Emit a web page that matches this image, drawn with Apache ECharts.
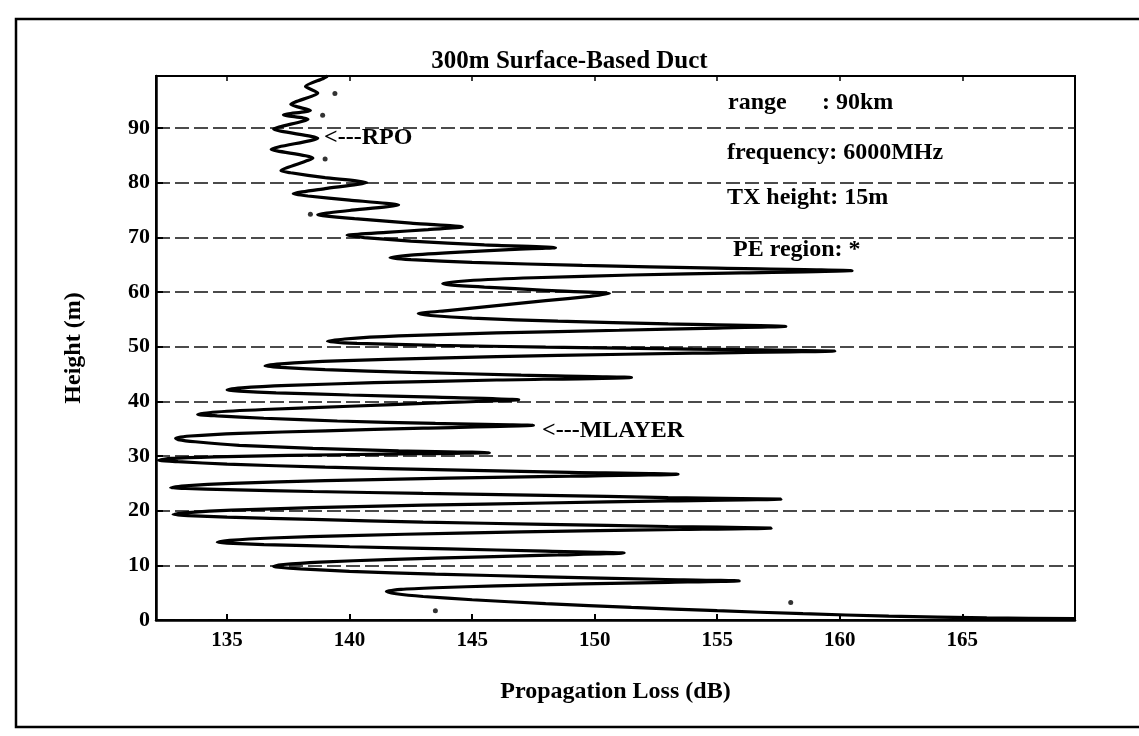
<!DOCTYPE html>
<html>
<head>
<meta charset="utf-8">
<script src="https://cdn.jsdelivr.net/npm/echarts@6/dist/echarts.min.js"></script>
<style>
  html, body { margin: 0; padding: 0; background: #fff; }
  #chart { width: 1139px; height: 736px; }
</style>
</head>
<body>
<div id="chart"></div>
<script>
// ---- Data ----
const chartTitle = '300m Surface-Based Duct';
const xAxisTitle = 'Propagation Loss (dB)';
const yAxisTitle = 'Height (m)';
const xTickValues = [135, 140, 145, 150, 155, 160, 165];
const yTickValues = [0, 10, 20, 30, 40, 50, 60, 70, 80, 90];
const infoLines = ['frequency: 6000MHz', 'TX height: 15m', 'PE region: *'];

// propagation loss curve: [loss dB, height m], ordered by height
const lossCurve = [
  [169.6, 0.25], [166, 0.4], [162, 0.7], [158.5, 1.15], [155, 1.7], [151.5, 2.3], [148, 3.0], [145, 3.7], [143, 4.3], [141.9, 4.8], [141.5, 5.2],
  [142.1, 5.6], [143.5, 5.9], [146, 6.25], [149.5, 6.6], [153, 6.9], [155.9, 7.15],
  [152.5, 7.45], [148, 7.9], [143.5, 8.4], [140, 8.9], [138, 9.35], [137.1, 9.65], [136.9, 9.8],
  [137.3, 10.15], [138.8, 10.6], [141.5, 11.05], [145.5, 11.55], [148.5, 11.9], [151.2, 12.25],
  [148, 12.6], [144, 13.0], [140, 13.4], [136.5, 13.8], [135.0, 14.05], [134.6, 14.2],
  [135.1, 14.55], [136.8, 15.0], [140, 15.45], [144.5, 15.9], [149.5, 16.3], [153.5, 16.55], [157.2, 16.8],
  [153, 17.1], [148, 17.5], [143, 17.9], [138.5, 18.4], [135, 18.8], [133.4, 19.1], [132.8, 19.3],
  [133.4, 19.65], [135.2, 20.1], [138.5, 20.55], [143, 21.0], [148, 21.4], [153, 21.8], [157.6, 22.1],
  [153, 22.4], [148, 22.8], [143, 23.15], [138.5, 23.5], [135, 23.85], [133.3, 24.05], [132.7, 24.2],
  [133.3, 24.55], [135.2, 25.0], [139, 25.5], [144, 25.95], [149, 26.3], [153.4, 26.65],
  [149, 27.0], [144, 27.45], [139, 27.95], [135, 28.5], [133, 28.95], [132.2, 29.2],
  [132.7, 29.55], [134.5, 29.85], [137.5, 30.1], [141.5, 30.35], [145.7, 30.6],
  [142, 30.95], [138.5, 31.4], [135.5, 31.95], [133.7, 32.6], [133.0, 33.0], [132.9, 33.25],
  [133.5, 33.65], [135.5, 34.15], [139, 34.6], [143, 35.1], [147.5, 35.6],
  [143.5, 35.95], [139.5, 36.4], [136.5, 36.9], [134.6, 37.35], [133.8, 37.6],
  [134.4, 38.0], [136.5, 38.5], [140, 39.1], [143.5, 39.7], [146.9, 40.3],
  [143.5, 40.75], [140, 41.15], [137, 41.55], [135.5, 41.85], [135.0, 42.05],
  [135.6, 42.45], [137.5, 42.9], [141, 43.4], [146, 43.9], [151.5, 44.35],
  [147, 44.8], [142.5, 45.3], [139, 45.8], [137.2, 46.2], [136.55, 46.45],
  [137.2, 46.85], [139.5, 47.4], [143.5, 47.9], [148.5, 48.4], [154, 48.8], [159.8, 49.2],
  [154, 49.55], [148, 49.9], [143.5, 50.25], [140.3, 50.6], [139.1, 50.95],
  [139.8, 51.4], [142, 51.95], [146, 52.5], [151, 53.0], [155, 53.4], [157.8, 53.7],
  [153, 54.15], [148.5, 54.65], [145, 55.2], [143.3, 55.7], [142.8, 56.05],
  [144, 56.6], [146, 57.5], [148, 58.4], [149.8, 59.2], [150.6, 59.7],
  [148, 60.3], [145.5, 60.9], [144.1, 61.3], [143.8, 61.55],
  [144.8, 62.05], [147.5, 62.6], [151.5, 63.1], [156, 63.5], [160.5, 63.9],
  [155, 64.35], [149.5, 64.85], [145, 65.4], [142.5, 65.9], [141.65, 66.25],
  [142.5, 66.75], [144.5, 67.3], [146.5, 67.75], [148.4, 68.1],
  [145.5, 68.6], [142.5, 69.3], [140.6, 69.95], [139.9, 70.35],
  [141.5, 70.9], [143.2, 71.4], [144.6, 71.9],
  [142.5, 72.6], [140.2, 73.4], [138.9, 73.95], [138.7, 74.15],
  [140.0, 74.9], [142.0, 75.9],
  [140.0, 76.8], [138.3, 77.55], [137.7, 77.95],
  [139.0, 78.9], [140.7, 80.0],
  [139.0, 80.9], [137.6, 81.8], [137.2, 82.15],
  [138.5, 84.5], [136.8, 86.1], [138.7, 88.1], [136.9, 89.8], [138.3, 91.6],
  [137.3, 92.4], [138.4, 93.2], [137.6, 94.3], [138.7, 96.4], [138.2, 97.6],
  [138.9, 99.0], [139.1, 99.5]
];

// isolated PE-region "*" marks
const peMarks = [[143.5, 1.7], [158.0, 3.2], [139.4, 96.3], [138.9, 92.3], [139.0, 84.3], [138.4, 74.2]];

// ---- Chart ----
const serif = "'Liberation Serif', 'DejaVu Serif', serif";
const chart = echarts.init(document.getElementById('chart'), null, { renderer: 'canvas' });

const option = {
  backgroundColor: '#ffffff',
  animation: false,
  title: {
    text: chartTitle,
    left: 'center',
    top: 49,
    padding: 0,
    textStyle: { fontFamily: serif, fontSize: 25, fontWeight: 'bold', color: '#000' }
  },
  grid: {
    left: 156, right: 64, top: 76, bottom: 116,
    show: true, borderColor: '#000', borderWidth: 2, backgroundColor: 'transparent'
  },
  xAxis: [{
    type: 'value', min: 132.1, max: 169.6, position: 'bottom',
    name: xAxisTitle, nameLocation: 'middle', nameGap: 60,
    nameTextStyle: { fontFamily: serif, fontSize: 24, fontWeight: 'bold', color: '#000' },
    axisLine: { show: true, lineStyle: { color: '#000', width: 2.5 } },
    axisTick: { show: true, inside: true, length: 6, customValues: xTickValues, lineStyle: { color: '#000', width: 2 } },
    axisLabel: { customValues: xTickValues, margin: 10, fontFamily: serif, fontSize: 21, fontWeight: 'bold', color: '#000' },
    splitLine: { show: false }
  }, {
    type: 'value', min: 132.1, max: 169.6, position: 'top',
    axisLine: { show: true, lineStyle: { color: '#000', width: 2 } },
    axisTick: { show: true, inside: true, length: 5, customValues: xTickValues, lineStyle: { color: '#000', width: 1.5 } },
    axisLabel: { show: false },
    splitLine: { show: false }
  }],
  yAxis: {
    type: 'value', min: 0, max: 99.5, interval: 10,
    name: yAxisTitle, nameLocation: 'middle', nameGap: 70, nameRotate: 90,
    nameTextStyle: { fontFamily: serif, fontSize: 24, fontWeight: 'bold', color: '#000' },
    axisLine: { show: true, lineStyle: { color: '#000', width: 2.5 } },
    axisTick: { show: true, inside: true, length: 7, lineStyle: { color: '#000', width: 2 } },
    axisLabel: { showMaxLabel: false, margin: 6, fontFamily: serif, fontSize: 22, fontWeight: 'bold', color: '#000' },
    splitLine: { show: true, lineStyle: { color: '#111', width: 1.6, type: [14, 5] } }
  },
  series: [{
    name: 'Propagation loss',
    type: 'line',
    data: lossCurve,
    showSymbol: false,
    smooth: 0.2,
    clip: true,
    lineStyle: { color: '#000', width: 3.2 },
    z: 3
  }, {
    name: 'PE region',
    type: 'scatter',
    data: peMarks,
    symbol: 'circle',
    symbolSize: 5,
    itemStyle: { color: '#000' },
    z: 4
  }],
  graphic: [
    { type: 'rect', shape: { x: 16, y: 19, width: 1140, height: 708 }, style: { fill: 'none', stroke: '#000', lineWidth: 2.5 }, silent: true },
    { type: 'text', x: 728, y: 103, style: { text: 'range', font: "bold 24px " + serif, fill: '#000', textVerticalAlign: 'middle' } },
    { type: 'text', x: 822, y: 103, style: { text: ': 90km', font: "bold 24px " + serif, fill: '#000', textVerticalAlign: 'middle' } },
    { type: 'text', x: 727, y: 153, style: { text: infoLines[0], font: "bold 24px " + serif, fill: '#000', textVerticalAlign: 'middle' } },
    { type: 'text', x: 727, y: 198, style: { text: infoLines[1], font: "bold 24px " + serif, fill: '#000', textVerticalAlign: 'middle' } },
    { type: 'text', x: 733, y: 250, style: { text: infoLines[2], font: "bold 24px " + serif, fill: '#000', textVerticalAlign: 'middle' } },
    { type: 'text', x: 324, y: 138, style: { text: '<---RPO', font: "bold 24px " + serif, fill: '#000', textVerticalAlign: 'middle' } },
    { type: 'text', x: 542, y: 431, style: { text: '<---MLAYER', font: "bold 24px " + serif, fill: '#000', textVerticalAlign: 'middle' } }
  ]
};
chart.setOption(option);
</script>
</body>
</html>
